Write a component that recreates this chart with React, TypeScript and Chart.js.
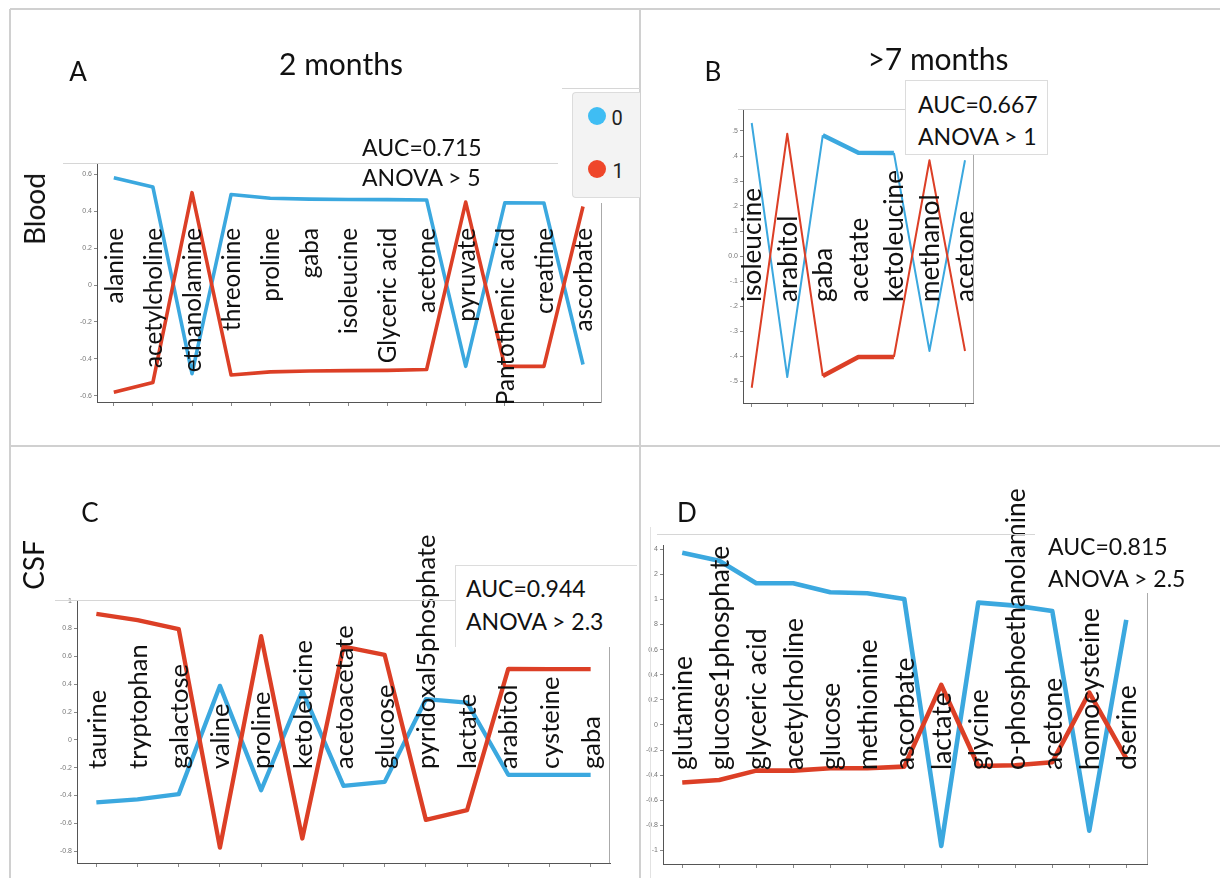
import React, { useEffect, useRef } from 'react';
import { Chart, registerables } from 'chart.js';

Chart.register(...registerables);

const FONT = 'Lato, "Open Sans", sans-serif';
const BLUE = '#3ba8df';
const RED = '#dc3f26';

// ---------- Panel A (Blood, 2 months) ----------
const catsA = ['alanine', 'acetylcholine', 'ethanolamine', 'threonine', 'proline', 'gaba', 'isoleucine', 'Glyceric acid', 'acetone', 'pyruvate', 'Pantothenic acid', 'creatine', 'ascorbate'];
const blueA = [0.58, 0.53, -0.48, 0.49, 0.47, 0.465, 0.463, 0.462, 0.46, -0.44, 0.445, 0.444, -0.43];
const redA = [-0.58, -0.527, 0.5, -0.487, -0.47, -0.465, -0.463, -0.462, -0.457, 0.449, -0.44, -0.44, 0.425];
const yTicksA = [-0.6, -0.4, -0.2, 0, 0.2, 0.4, 0.6];
const yTickLabelsA = ['-0.6', '-0.4', '-0.2', '0', '0.2', '0.4', '0.6'];

// ---------- Panel B (Blood, >7 months) ----------
const catsB = ['isoleucine', 'arabitol', 'gaba', 'acetate', 'ketoleucine', 'methanol', 'acetone'];
const blueB = [0.532, -0.484, 0.483, 0.413, 0.412, -0.38, 0.383];
const redB = [-0.527, 0.489, -0.48, -0.404, -0.404, 0.383, -0.38];
const yTicksB = [-0.5, -0.4, -0.3, -0.2, -0.1, 0, 0.1, 0.2, 0.3, 0.4, 0.5];
const yTickLabelsB = ['-.5', '-.4', '-.3', '-.2', '-.1', '0.0', '.1', '.2', '.3', '.4', '.5'];

// ---------- Panel C (CSF, 2 months) ----------
const catsC = ['taurine', 'tryptophan', 'galactose', 'valine', 'proline', 'ketoleucine', 'acetoacetate', 'glucose', 'pyridoxal5phosphate', 'lactate', 'arabitol', 'cysteine', 'gaba'];
const blueC = [-0.45, -0.428, -0.39, 0.388, -0.362, 0.352, -0.33, -0.302, 0.292, 0.268, -0.251, -0.251, -0.251];
const redC = [0.905, 0.86, 0.795, -0.774, 0.745, -0.709, 0.67, 0.61, -0.575, -0.505, 0.51, 0.508, 0.508];
const yTicksC = [-0.8, -0.6, -0.4, -0.2, 0, 0.2, 0.4, 0.6, 0.8, 1];
const yTickLabelsC = ['-0.8', '-0.6', '-0.4', '-0.2', '0', '0.2', '0.4', '0.6', '0.8', '1'];

// ---------- Panel D (CSF, >7 months) ----------
const catsD = ['glutamine', 'glucose1phosphate', 'glyceric acid', 'acetylcholine', 'glucose', 'methionine', 'ascorbate', 'lactate', 'glycine', 'o-phosphoethanolamine', 'acetone', 'homocysteine', 'dserine'];
const blueD = [1.373, 1.309, 1.129, 1.129, 1.057, 1.049, 1.004, -0.964, 0.975, 0.951, 0.908, -0.842, 0.837];
const redD = [-0.459, -0.438, -0.364, -0.364, -0.345, -0.345, -0.332, 0.319, -0.327, -0.321, -0.297, 0.258, -0.266];
const yTicksD = [-1, -0.8, -0.6, -0.4, -0.2, 0, 0.2, 0.4, 0.6, 0.8, 1, 1.2, 1.4];
const yTickLabelsD = ['-1', '-0.8', '-0.6', '-0.4', '-0.2', '0', '0.2', '0.4', '0.6', '8', '1', '2', '4'];

type Panel = {
  id: string;
  cats: string[];
  blue: number[];
  red: number[];
  yTicks: number[];
  yTickLabels: string[];
  box: { left: number; top: number; width: number; height: number };
  pad: { left: number; top: number; right: number; bottom: number };
  yw: number;
  xmin: number; xmax: number; ymin: number; ymax: number;
  lw: number;
  segW?: number[];
  anchor: number;
  align: 'left' | 'right';
  refWord: string;
  refWidth: number;
};

const panels: Panel[] = [
  {
    id: 'A', cats: catsA, blue: blueA, red: redA, yTicks: yTicksA, yTickLabels: yTickLabelsA,
    box: { left: 11, top: 10, width: 629, height: 435 },
    pad: { left: 64, top: 154, right: 39, bottom: 37 }, yw: 22,
    xmin: -0.43, xmax: 12.46, ymin: -0.633, ymax: 0.655, lw: 3.6,
    anchor: 64, align: 'right', refWord: 'acetylcholine', refWidth: 140,
  },
  {
    id: 'B', cats: catsB, blue: blueB, red: redB, yTicks: yTicksB, yTickLabels: yTickLabelsB,
    box: { left: 642, top: 10, width: 578, height: 435 },
    pad: { left: 85, top: 99, right: 247, bottom: 36 }, yw: 16,
    xmin: -0.245, xmax: 6.225, ymin: -0.588, ymax: 0.588, lw: 2,
    segW: [2, 2, 4.5, 4.5, 2, 2],
    anchor: 193, align: 'left', refWord: 'ketoleucine', refWidth: 132,
  },
  {
    id: 'C', cats: catsC, blue: blueC, red: redC, yTicks: yTicksC, yTickLabels: yTickLabelsC,
    box: { left: 11, top: 447, width: 629, height: 431 },
    pad: { left: 46, top: 153, right: 30, bottom: 9 }, yw: 20,
    xmin: -0.47, xmax: 12.47, ymin: -0.885, ymax: 1.005, lw: 4.3,
    anchor: 169, align: 'left', refWord: 'ketoleucine', refWidth: 129,
  },
  {
    id: 'D', cats: catsD, blue: blueD, red: redD, yTicks: yTicksD, yTickLabels: yTickLabelsD,
    box: { left: 642, top: 447, width: 578, height: 431 },
    pad: { left: 3, top: 98, right: 73, bottom: 8 }, yw: 18,
    xmin: -0.52, xmax: 12.56, ymin: -1.108, ymax: 1.434, lw: 4.6,
    anchor: 225, align: 'left', refWord: 'acetylcholine', refWidth: 152,
  },
];

function ChartPanel({ p }: { p: Panel }) {
  const ref = useRef<HTMLCanvasElement>(null);
  useEffect(() => {
    const canvas = ref.current;
    if (!canvas) return;
    const labelPlugin = {
      id: 'catLabels' + p.id,
      afterDatasetsDraw(chart: any) {
        const { ctx, chartArea } = chart;
        const xs = chart.scales.x;
        ctx.save();
        ctx.font = `100px ${FONT}`;
        const w = ctx.measureText(p.refWord).width;
        const size = (100 * p.refWidth) / w;
        ctx.font = `${size.toFixed(2)}px ${FONT}`;
        ctx.fillStyle = '#111';
        ctx.textBaseline = 'middle';
        ctx.textAlign = p.align;
        p.cats.forEach((lab, i) => {
          const x = xs.getPixelForValue(i);
          ctx.save();
          ctx.translate(x + 1, chartArea.top + p.anchor);
          ctx.rotate(-Math.PI / 2);
          ctx.fillText(lab, 0, 0);
          ctx.restore();
        });
        ctx.restore();
      },
    };
    const mk = (label: string, vals: number[], color: string) => ({
      label,
      data: vals.map((v, i) => ({ x: i, y: v })),
      borderColor: color,
      backgroundColor: color,
      borderWidth: p.lw,
      pointRadius: 0,
      tension: 0,
      fill: false,
      borderJoinStyle: 'round' as const,
      ...(p.segW ? { segment: { borderWidth: (c: any) => p.segW![c.p0DataIndex] } } : {}),
    });
    const chart = new Chart(canvas, {
      type: 'line',
      data: {
        datasets: [mk('1', p.red, RED), mk('0', p.blue, BLUE)] as any,
      },
      options: {
        animation: false,
        responsive: false,
        events: [],
        layout: { padding: p.pad },
        plugins: { legend: { display: false }, tooltip: { enabled: false } },
        scales: {
          x: {
            type: 'linear',
            min: p.xmin,
            max: p.xmax,
            afterBuildTicks: (s: any) => { s.ticks = p.cats.map((_, i) => ({ value: i })); },
            afterFit: (s: any) => { s.height = 6; },
            ticks: { display: false },
            grid: { drawOnChartArea: false, drawTicks: true, tickLength: 4, color: '#888' },
            border: { display: true, color: '#555', width: 1 },
          },
          y: {
            type: 'linear',
            min: p.ymin,
            max: p.ymax,
            afterBuildTicks: (s: any) => { s.ticks = p.yTicks.map((v) => ({ value: v })); },
            afterFit: (s: any) => { s.width = p.yw; },
            ticks: {
              autoSkip: false,
              padding: 2,
              color: '#777',
              font: { size: 7, family: '"Liberation Sans", sans-serif' },
              callback: (_v: any, i: number) => p.yTickLabels[i],
            },
            grid: { drawOnChartArea: false, drawTicks: true, tickLength: 3, color: '#888' },
            border: { display: true, color: '#555', width: 1 },
          },
        },
      } as any,
      plugins: [labelPlugin],
    });
    return () => chart.destroy();
  }, [p]);
  return (
    <canvas
      ref={ref}
      width={p.box.width}
      height={p.box.height}
      style={{ position: 'absolute', left: p.box.left, top: p.box.top, width: p.box.width, height: p.box.height }}
    />
  );
}

function Line({ x1, y1, x2, y2, c = '#d2d2d2', w = 1 }: { x1: number; y1: number; x2: number; y2: number; c?: string; w?: number }) {
  const horiz = y1 === y2;
  return (
    <div
      style={{
        position: 'absolute',
        left: horiz ? x1 : x1 - w / 2,
        top: horiz ? y1 - w / 2 : y1,
        width: horiz ? x2 - x1 : w,
        height: horiz ? w : y2 - y1,
        background: c,
      }}
    />
  );
}

function Txt({ s, x, y, size, mode = 'center', family = FONT, color = '#111' }: { s: string; x: number; y: number; size: number; mode?: 'center' | 'left' | 'rot'; family?: string; color?: string }) {
  const transform =
    mode === 'center' ? 'translate(-50%,-50%)' : mode === 'left' ? 'translateY(-50%)' : 'translate(-50%,-50%) rotate(-90deg)';
  return (
    <div
      style={{
        position: 'absolute',
        left: x,
        top: y,
        transform,
        fontFamily: family,
        fontSize: size,
        lineHeight: 1,
        whiteSpace: 'nowrap',
        color,
      }}
    >
      {s}
    </div>
  );
}

export default function App() {
  return (
    <div style={{ position: 'absolute', left: 0, top: 0, width: 1220, height: 878, background: '#fff', overflow: 'hidden' }}>
      {/* figure frame and dividers */}
      <Line x1={10} y1={9} x2={1220} y2={9} c="#d0d0d0" w={2} />
      <Line x1={10} y1={9} x2={10} y2={878} c="#d0d0d0" w={2} />
      <Line x1={640} y1={9} x2={640} y2={878} c="#d0d0d0" w={2} />
      <Line x1={10} y1={446} x2={1220} y2={446} c="#d0d0d0" w={2} />

      {panels.map((p) => (
        <ChartPanel key={p.id} p={p} />
      ))}

      {/* pasted image frames */}
      <Line x1={63} y1={163} x2={558} y2={163} c="#d6d6d6" />
      <Line x1={601} y1={203} x2={601} y2={403} c="#aaa" />
      <Line x1={562} y1={88} x2={640} y2={88} c="#d6d6d6" />
      <Line x1={738} y1={109} x2={907} y2={109} c="#d6d6d6" />
      <Line x1={973} y1={155} x2={973} y2={403} c="#aaa" />
      <Line x1={55} y1={600} x2={455} y2={600} c="#d6d6d6" />
      <Line x1={609} y1={647} x2={609} y2={863} c="#aaa" />
      <Line x1={657} y1={534} x2={1035} y2={534} c="#d6d6d6" />
      <Line x1={1147} y1={593} x2={1147} y2={864} c="#aaa" />
      <Line x1={650} y1={527} x2={650} y2={878} c="#e2e2e2" />

      {/* Panel A texts */}
      <Txt s="A" x={78} y={71} size={26} />
      <Txt s="2 months" x={341} y={63} size={30} />
      <Txt s="Blood" x={34} y={209} size={28} mode="rot" />
      <Txt s="AUC=0.715" x={362} y={147} size={23} mode="left" />
      <Txt s="ANOVA > 5" x={362} y={177} size={23} mode="left" />

      {/* legend */}
      <div style={{ position: 'absolute', left: 572, top: 92, width: 68, height: 106, background: '#f3f3f3', border: '1px solid #dcdcdc', borderRight: 'none', borderRadius: '4px 0 0 4px', boxSizing: 'border-box' }} />
      <div style={{ position: 'absolute', left: 588, top: 107, width: 18, height: 18, borderRadius: '50%', background: '#3fbdf3' }} />
      <div style={{ position: 'absolute', left: 588, top: 160, width: 18, height: 18, borderRadius: '50%', background: '#ef462a' }} />
      <Txt s="0" x={617} y={118} size={20} family='Roboto, sans-serif' color="#222" />
      <Txt s="1" x={618} y={171} size={20} family='Roboto, sans-serif' color="#222" />

      {/* Panel B texts */}
      <Txt s="B" x={713} y={71} size={26} />
      <Txt s=">7 months" x={938} y={58} size={30} />
      <div style={{ position: 'absolute', left: 905, top: 80, width: 143, height: 75, background: '#fff', border: '1px solid #dcdcdc', boxSizing: 'border-box' }} />
      <Txt s="AUC=0.667" x={918} y={104} size={23} mode="left" />
      <Txt s="ANOVA > 1" x={918} y={136} size={23} mode="left" />

      {/* Panel C texts */}
      <Txt s="C" x={90} y={512} size={26} />
      <Txt s="CSF" x={33} y={565} size={28} mode="rot" />
      <div style={{ position: 'absolute', left: 455, top: 565, width: 182, height: 82, background: '#fff', borderTop: '1px solid #dcdcdc', borderLeft: '1px solid #dcdcdc', boxSizing: 'border-box' }} />
      <Txt s="AUC=0.944" x={466} y={588} size={23} mode="left" />
      <Txt s="ANOVA > 2.3" x={466} y={621} size={23} mode="left" />

      {/* Panel D texts */}
      <Txt s="D" x={687} y={512} size={26} />
      <Txt s="AUC=0.815" x={1048} y={546} size={23} mode="left" />
      <Txt s="ANOVA > 2.5" x={1048} y={578} size={23} mode="left" />
    </div>
  );
}
